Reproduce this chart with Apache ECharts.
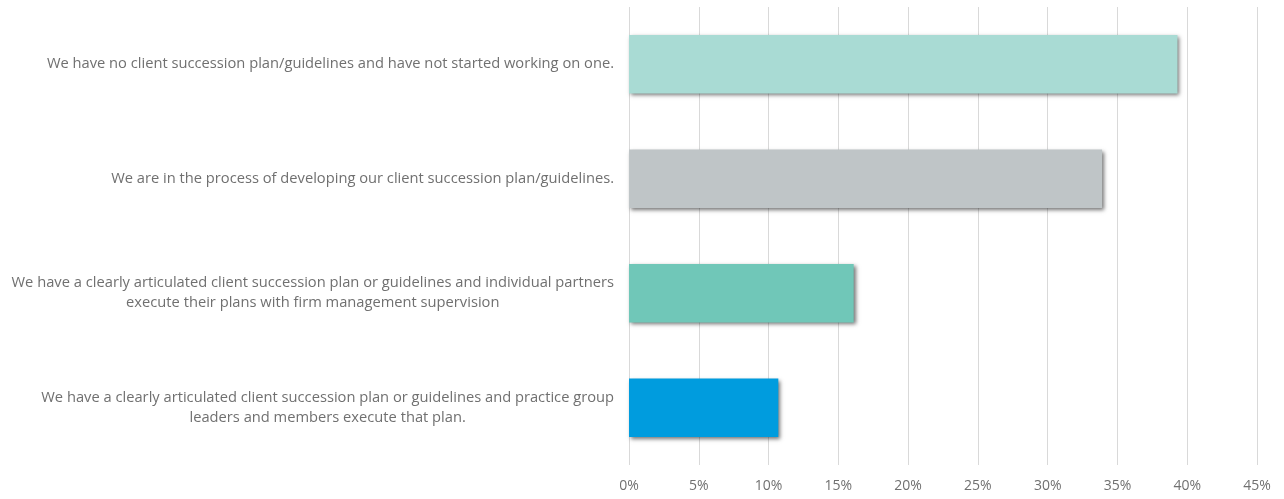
<!DOCTYPE html>
<html>
<head>
<meta charset="utf-8">
<script src="https://cdn.jsdelivr.net/npm/echarts@6/dist/echarts.min.js"></script>
<style>
  html, body { margin: 0; padding: 0; background: #ffffff; }
  #chart { width: 1284px; height: 499px; }
</style>
</head>
<body>
<div id="chart"></div>
<script>
// Survey answers, listed top to bottom
const categories = [
  'We have no client succession plan/guidelines and have not started working on one.',
  'We are in the process of developing our client succession plan/guidelines.',
  'We have a clearly articulated client succession plan or guidelines and individual partners\nexecute their plans with firm management supervision',
  'We have a clearly articulated client succession plan or guidelines and practice group\nleaders and members execute that plan.'
];
// Share of respondents, in percent
const values = [39.3, 33.9, 16.1, 10.7];
const barColors = ['#A9DBD4', '#BFC5C7', '#70C7B8', '#009CDE'];
const axisMax = 45;
const axisStep = 5;

const chart = echarts.init(document.getElementById('chart'));
const fontFamily = '"Open Sans", sans-serif';
const textColor = '#707070';

chart.setOption({
  animation: false,
  grid: { left: 629, right: 27, top: 7, bottom: 34, containLabel: false },
  xAxis: {
    type: 'value',
    min: 0,
    max: axisMax,
    interval: axisStep,
    axisLine: { show: false },
    axisTick: { show: false },
    splitLine: { lineStyle: { color: '#D9D9D9', width: 1 } },
    axisLabel: {
      formatter: v => v + '%',
      color: textColor,
      fontSize: 14,
      fontFamily: fontFamily,
      margin: 14
    }
  },
  yAxis: {
    type: 'category',
    inverse: true,
    data: categories,
    axisLine: { show: false },
    axisTick: { show: false },
    axisLabel: {
      // each line centred inside the right-aligned label block
      formatter: v => v.split('\n').map(l => '{c|' + l + '}').join('\n'),
      align: 'right',
      margin: 15,
      rich: {
        c: {
          align: 'center',
          color: textColor,
          fontSize: 14.7,
          fontFamily: fontFamily,
          lineHeight: 20
        }
      }
    }
  },
  series: [{
    type: 'bar',
    data: values.map((v, i) => ({ value: v, itemStyle: { color: barColors[i] } })),
    barCategoryGap: '49%',
    itemStyle: {
      shadowColor: 'rgba(0,0,0,0.55)',
      shadowBlur: 4,
      shadowOffsetX: 2,
      shadowOffsetY: 2
    }
  }]
});
</script>
</body>
</html>
